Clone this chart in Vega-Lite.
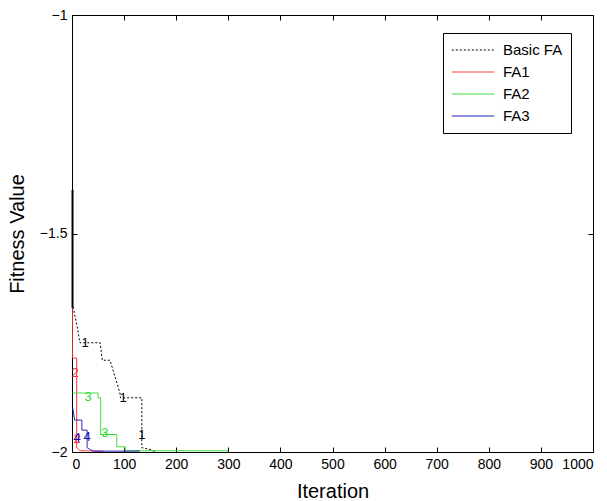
{
  "$schema": "https://vega.github.io/schema/vega-lite/v6.json",
  "width": 521,
  "height": 437,
  "autosize": {"type": "none"},
  "padding": {"left": 72, "top": 15, "right": 14, "bottom": 49},
  "background": "white",
  "config": {
    "view": {"stroke": "#000000", "strokeWidth": 1},
    "font": "Liberation Sans",
    "axis": {"grid": false, "domain": false, "tickColor": "#000000", "tickSize": -5, "labelColor": "#000000", "labelFont": "Liberation Sans", "labelFontSize": 14, "titleFont": "Liberation Sans", "titleFontSize": 20, "titleFontWeight": "normal", "titleColor": "#000000"}
  },
  "resolve": {"axis": {"x": "independent", "y": "independent"}},
  "datasets": {
    "curves": [
      {"series": "Basic FA", "it": 2, "val": -1.668},
      {"series": "Basic FA", "it": 11, "val": -1.72},
      {"series": "Basic FA", "it": 15, "val": -1.75},
      {"series": "Basic FA", "it": 54, "val": -1.75},
      {"series": "Basic FA", "it": 58, "val": -1.79},
      {"series": "Basic FA", "it": 73, "val": -1.79},
      {"series": "Basic FA", "it": 92, "val": -1.865},
      {"series": "Basic FA", "it": 93, "val": -1.876},
      {"series": "Basic FA", "it": 134, "val": -1.876},
      {"series": "Basic FA", "it": 134, "val": -1.99},
      {"series": "Basic FA", "it": 152, "val": -1.995},
      {"series": "Basic FA", "it": 160, "val": -2.0},
      {"series": "FA1", "it": 1, "val": -1.648},
      {"series": "FA1", "it": 1, "val": -1.785},
      {"series": "FA1", "it": 9, "val": -1.785},
      {"series": "FA1", "it": 9, "val": -1.99},
      {"series": "FA1", "it": 15, "val": -1.997},
      {"series": "FA1", "it": 60, "val": -1.998},
      {"series": "FA2", "it": 1, "val": -1.865},
      {"series": "FA2", "it": 50, "val": -1.865},
      {"series": "FA2", "it": 50, "val": -1.876},
      {"series": "FA2", "it": 55, "val": -1.876},
      {"series": "FA2", "it": 55, "val": -1.96},
      {"series": "FA2", "it": 86, "val": -1.96},
      {"series": "FA2", "it": 86, "val": -1.988},
      {"series": "FA2", "it": 102, "val": -1.988},
      {"series": "FA2", "it": 102, "val": -1.997},
      {"series": "FA2", "it": 300, "val": -1.997},
      {"series": "FA3", "it": 1, "val": -1.897},
      {"series": "FA3", "it": 5, "val": -1.927},
      {"series": "FA3", "it": 19, "val": -1.927},
      {"series": "FA3", "it": 19, "val": -1.95},
      {"series": "FA3", "it": 29, "val": -1.95},
      {"series": "FA3", "it": 29, "val": -1.99},
      {"series": "FA3", "it": 40, "val": -1.998},
      {"series": "FA3", "it": 130, "val": -1.998}
    ],
    "markers": [
      {"series": "Basic FA", "it": 25, "val": -1.75, "label": "1"},
      {"series": "Basic FA", "it": 98, "val": -1.876, "label": "1"},
      {"series": "Basic FA", "it": 134, "val": -1.96, "label": "1"},
      {"series": "FA1", "it": 6, "val": -1.82, "label": "2"},
      {"series": "FA1", "it": 10, "val": -1.97, "label": "2"},
      {"series": "FA2", "it": 31, "val": -1.874, "label": "3"},
      {"series": "FA2", "it": 63, "val": -1.957, "label": "3"},
      {"series": "FA3", "it": 10, "val": -1.968, "label": "4"},
      {"series": "FA3", "it": 29, "val": -1.966, "label": "4"}
    ],
    "initial": [
      {"it": 1, "val": -1.40},
      {"it": 1, "val": -1.67}
    ]
  },
  "layer": [
    {
      "data": {"name": "curves"},
      "mark": {"type": "line", "strokeWidth": 1},
      "encoding": {
        "x": {"field": "it", "type": "quantitative", "scale": {"domain": [0, 1000], "nice": false, "zero": false}, "axis": {"title": "Iteration", "values": [0,100,200,300,400,500,600,700,800,900,1000], "format": "d", "labelPadding": 10, "titleBaseline": "alphabetic", "titleY": 45}},
        "y": {"field": "val", "type": "quantitative", "scale": {"domain": [-2, -1], "nice": false, "zero": false}, "axis": {"title": "Fitness Value", "values": [-2, -1.5, -1], "format": "~g", "labelPadding": 10, "titlePadding": 12}},
        "color": {"field": "series", "type": "nominal", "scale": {"domain": ["Basic FA", "FA1", "FA2", "FA3"], "range": ["#000000", "#ff3030", "#30d830", "#1010b0"]},
          "legend": {"title": null, "orient": "none", "legendX": 371, "legendY": 18, "symbolType": "stroke", "symbolSize": 1800, "symbolStrokeWidth": 1, "labelFontSize": 15, "labelFont": "Liberation Sans", "labelColor": "#000000", "strokeColor": "#000000", "fillColor": "white", "padding": 8, "rowPadding": 4, "clipHeight": 18, "labelOffset": 8}},
        "strokeDash": {"field": "series", "type": "nominal", "scale": {"domain": ["Basic FA", "FA1", "FA2", "FA3"], "range": [[2, 2], [1, 0], [1, 0], [1, 0]]}, "legend": null},
        "detail": {"field": "series"}
      }
    },
    {
      "data": {"name": "initial"},
      "mark": {"type": "line", "strokeWidth": 2, "color": "#000000"},
      "encoding": {
        "x": {"field": "it", "type": "quantitative", "axis": {"orient": "top", "labels": false, "title": null, "values": [0,100,200,300,400,500,600,700,800,900,1000]}},
        "y": {"field": "val", "type": "quantitative", "axis": {"orient": "right", "labels": false, "title": null, "values": [-2, -1.5, -1]}}
      }
    },
    {
      "data": {"name": "markers"},
      "mark": {"type": "text", "fontSize": 13, "font": "Liberation Sans"},
      "encoding": {
        "x": {"field": "it", "type": "quantitative", "axis": null},
        "y": {"field": "val", "type": "quantitative", "axis": null},
        "text": {"field": "label"},
        "color": {"field": "series", "type": "nominal", "legend": null}
      }
    }
  ]
}
